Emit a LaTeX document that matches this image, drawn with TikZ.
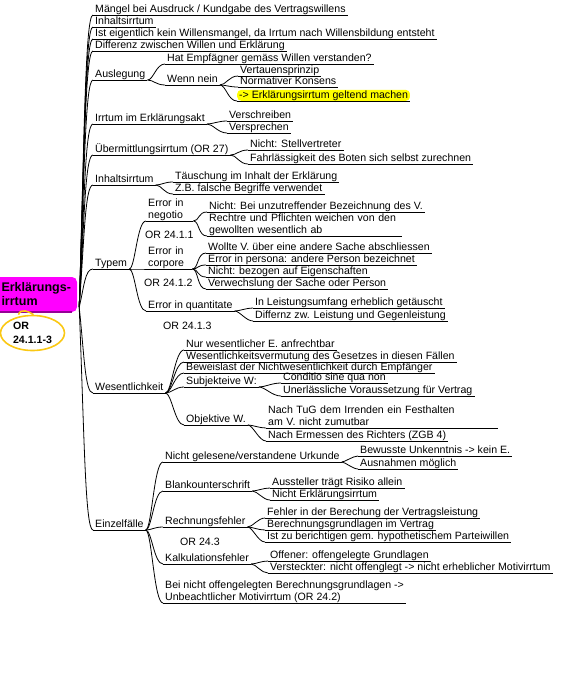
\documentclass[tikz,border=0pt]{standalone}
\usepackage{fontspec}
\setmainfont{Liberation Sans}
\usetikzlibrary{shapes.geometric}
\definecolor{rootpink}{RGB}{255,0,255}
\definecolor{rootshade}{RGB}{150,0,150}
\definecolor{marker}{RGB}{255,255,0}
\definecolor{ringgold}{RGB}{250,200,20}
\newcommand\dn{\rule[-2.3pt]{0pt}{2.3pt}}
\newcommand\ulext[1]{\hspace{#1pt}}

\begin{document}
\begin{tikzpicture}[x=1pt,y=1pt]
\tikzstyle{every node}+=[inner sep=0pt, font=\fontsize{10.6}{12}\selectfont]
\tikzstyle{uline}=[draw=black, line width=0.8pt]
\tikzstyle{twig}=[black, line width=0.8pt]
\tikzstyle{topic}=[anchor=south west, inner xsep=2pt, inner ysep=0.3pt, text height=8pt, text depth=2.3pt, append after command={(\tikzlastnode.south west) edge[uline] (\tikzlastnode.south east)}]
\tikzstyle{topicm}=[anchor=south west, inner xsep=2pt, inner ysep=0.3pt, align=left, append after command={(\tikzlastnode.south west) edge[uline] (\tikzlastnode.south east)}]
\tikzstyle{note}=[anchor=west]
\tikzstyle{marked}=[fill=marker, rounded corners=4pt]
\tikzstyle{rootbox}=[fill=rootpink, rounded corners=5pt, minimum width=81.5pt, minimum height=35pt, align=left, font=\bfseries\fontsize{12.5}{14}\selectfont]
\tikzstyle{ring}=[ellipse, draw=ringgold, line width=1.6pt, minimum width=64pt, minimum height=35pt, align=left, font=\bfseries\fontsize{10.6}{13.5}\selectfont]
\useasboundingbox (0,0) rectangle (565,-697);

% root and reference callout
\node[rootbox] (root) at (36.25,-294.5) {Erklärungs-\\irrtum};
\draw[rootshade, line width=1.5pt] ([xshift=5pt]root.south west) -- ([xshift=-5pt]root.south east);
\coordinate (hub) at ([shift={(2pt,5pt)}]root.south east);
\node[ring] (ref) at (32.5,-333) {OR\\24.1.1-3};
\draw[ringgold, line width=1.6pt] ([xshift=-14pt]ref.north) .. controls +(2,7) and +(-4,3) .. ([xshift=1pt]ref.north);

% main topics
\node[topic] (m1) at (93,-15) {Mängel bei Ausdruck / Kundgabe des Vertragswillens};
\node[topic] (m2) at (93,-27) {Inhaltsirrtum\ulext{3}};
\node[topic] (m3) at (93,-39) {Ist eigentlich kein Willensmangel, da Irrtum nach Willensbildung entsteht\ulext{8}};
\node[topic] (m4) at (93,-51) {Differenz zwischen Willen und Erklärung\ulext{5}};
\node[topic] (m5) at (93,-80) {Auslegung};
\node[topic] (m6) at (93,-124) {Irrtum im Erklärungsakt\ulext{4}};
\node[topic] (m7) at (93,-155) {Übermittlungsirrtum (OR 27)\ulext{3}};
\node[topic] (m8) at (93,-185) {Inhaltsirrtum\ulext{3}};
\node[topic] (m9) at (93,-269) {Typem\ulext{3}};
\node[topic] (m10) at (93,-393) {Wesentlichkeit\ulext{2}};
\node[topic] (m11) at (93,-530) {Einzelfälle\ulext{2}};

\draw[twig] (hub) .. controls +(5,161) and +(-8,0) .. (m1.south west);
\draw[twig] (hub) .. controls +(5,154) and +(-8,0) .. (m2.south west);
\draw[twig] (hub) .. controls +(5,147) and +(-8,0) .. (m3.south west);
\draw[twig] (hub) .. controls +(5,141) and +(-8,0) .. (m4.south west);
\draw[twig] (hub) .. controls +(5,125) and +(-8,0) .. (m5.south west);
\draw[twig] (hub) .. controls +(5,101) and +(-8,0) .. (m6.south west);
\draw[twig] (hub) .. controls +(5,84) and +(-8,0) .. (m7.south west);
\draw[twig] (hub) .. controls +(5,67) and +(-8,0) .. (m8.south west);
\draw[twig] (hub) .. controls +(5,21) and +(-8,0) .. (m9.south west);
\draw[twig] (hub) .. controls +(5,-47) and +(-8,0) .. (m10.south west);
\draw[twig] (hub) .. controls +(5,-123) and +(-8,0) .. (m11.south west);

% Auslegung
\node[topic] (a1) at (165,-64) {Hat Empfägner gemäss Willen verstanden?\ulext{4}};
\node[topic] (a2) at (165,-85) {Wenn nein\ulext{3}};
\node[topic] (a21) at (238,-76) {Vertauensprinzip\ulext{4}};
\node[topic] (a22) at (238,-87) {Normativer Konsens\ulext{3}};
\node[topic, marked] (a23) at (237,-101) {-> Erklärungsirrtum geltend machen\ulext{2}};
\draw[twig] (m5.south east) .. controls +(6,0) and +(-9,0) .. (a1.south west);
\draw[twig] (m5.south east) .. controls +(6,0) and +(-9,0) .. (a2.south west);
\draw[twig] (a2.south east) .. controls +(6,0) and +(-9,0) .. (a21.south west);
\draw[twig] (a2.south east) .. controls +(6,0) and +(-9,0) .. (a22.south west);
\draw[twig] (a2.south east) .. controls +(6,0) and +(-9,0) .. (a23.south west);

% Erklaerungsakt, Uebermittlung, Inhalt
\node[topic] (v1) at (227,-121) {Verschreiben\ulext{3}};
\node[topic] (v2) at (227,-133) {Versprechen\ulext{3}};
\node[topic] (u1) at (248,-150) {Nicht: Stellvertreter};
\node[topic] (u2) at (248,-164) {Fahrlässigkeit des Boten sich selbst zurechnen};
\node[topic] (i1) at (173,-182) {Täuschung im Inhalt der Erklärung\ulext{3}};
\node[topic] (i2) at (173,-194) {Z.B. falsche Begriffe verwendet\ulext{3}};
\draw[twig] (m6.south east) .. controls +(6,0) and +(-9,0) .. (v1.south west);
\draw[twig] (m6.south east) .. controls +(6,0) and +(-9,0) .. (v2.south west);
\draw[twig] (m7.south east) .. controls +(6,0) and +(-9,0) .. (u1.south west);
\draw[twig] (m7.south east) .. controls +(6,0) and +(-9,0) .. (u2.south west);
\draw[twig] (m8.south east) .. controls +(6,0) and +(-9,0) .. (i1.south west);
\draw[twig] (m8.south east) .. controls +(6,0) and +(-9,0) .. (i2.south west);

% Typen
\node[topicm, text width=43pt] (t1) at (146,-221) {Error in\\negotio\dn};
\node[note] (o1) at (145,-235) {OR 24.1.1};
\node[topicm, text width=42pt] (t2) at (146,-269) {Error in\\corpore\dn};
\node[note] (o2) at (144,-283) {OR 24.1.2};
\node[topic] (t3) at (146,-311) {Error in quantitate\ulext{9}};
\node[note] (o3) at (163,-326) {OR 24.1.3};
\draw[twig] (m9.south east) .. controls +(6,0) and +(-9,0) .. (t1.south west);
\draw[twig] (m9.south east) .. controls +(6,0) and +(-9,0) .. (t2.south west);
\draw[twig] (m9.south east) .. controls +(6,0) and +(-9,0) .. (t3.south west);
\node[topic] (t11) at (207,-212) {Nicht: Bei unzutreffender Bezeichnung des V.\ulext{3}};
\node[topicm, text width=191pt] (t12) at (207,-236) {Rechtre und Pflichten weichen von den\\gewollten wesentlich ab\dn};
\draw[twig] (t1.south east) .. controls +(6,0) and +(-9,0) .. (t11.south west);
\draw[twig] (t1.south east) .. controls +(6,0) and +(-9,0) .. (t12.south west);
\node[topic] (c1) at (206,-253) {Wollte V. über eine andere Sache abschliessen\ulext{3}};
\node[topic] (c2) at (206,-265) {Error in persona: andere Person bezeichnet\ulext{2}};
\node[topic] (c3) at (206,-277) {Nicht: bezogen auf Eigenschaften\ulext{3}};
\node[topic] (c4) at (206,-289) {Verwechslung der Sache oder Person\ulext{3}};
\draw[twig] (t2.south east) .. controls +(6,0) and +(-9,0) .. (c1.south west);
\draw[twig] (t2.south east) .. controls +(6,0) and +(-9,0) .. (c2.south west);
\draw[twig] (t2.south east) .. controls +(6,0) and +(-9,0) .. (c3.south west);
\draw[twig] (t2.south east) .. controls +(6,0) and +(-9,0) .. (c4.south west);
\node[topic] (q1) at (253,-308) {In Leistungsumfang erheblich getäuscht\ulext{3}};
\node[topic] (q2) at (253,-321) {Differnz zw. Leistung und Gegenleistung\ulext{2}};
\draw[twig] (t3.south east) .. controls +(5,0) and +(-7,0) .. (q1.south west);
\draw[twig] (t3.south east) .. controls +(5,0) and +(-7,0) .. (q2.south west);

% Wesentlichkeit
\node[topic] (w1) at (184,-350) {Nur wesentlicher E. anfrechtbar\ulext{3}};
\node[topic] (w2) at (184,-362) {Wesentlichkeitsvermutung des Gesetzes in diesen Fällen\ulext{2}};
\node[topic] (w3) at (184,-373) {Beweislast der Nichtwesentlichkeit durch Empfänger\ulext{3}};
\node[topic] (w4) at (184,-387) {Subjekteive W:\ulext{5}};
\node[topic] (w5) at (184,-425) {Objektive W.\ulext{3}};
\draw[twig] (m10.south east) .. controls +(6,0) and +(-9,0) .. (w1.south west);
\draw[twig] (m10.south east) .. controls +(6,0) and +(-9,0) .. (w2.south west);
\draw[twig] (m10.south east) .. controls +(6,0) and +(-9,0) .. (w3.south west);
\draw[twig] (m10.south east) .. controls +(6,0) and +(-9,0) .. (w4.south west);
\draw[twig] (m10.south east) .. controls +(6,0) and +(-9,0) .. (w5.south west);
\node[topic] (s1) at (281,-383) {Conditio sine qua non\ulext{3}};
\node[topic] (s2) at (281,-396) {Unerlässliche Voraussetzung für Vertrag\ulext{3}};
\draw[twig] (w4.south east) .. controls +(6,0) and +(-9,0) .. (s1.south west);
\draw[twig] (w4.south east) .. controls +(6,0) and +(-9,0) .. (s2.south west);
\node[topicm, text width=228pt] (b1) at (266,-428) {Nach TuG dem Irrenden ein Festhalten\\am V. nicht zumutbar\dn};
\node[topic] (b2) at (266,-441) {Nach Ermessen des Richters (ZGB 4)\ulext{2}};
\draw[twig] (w5.south east) .. controls +(5,0) and +(-7,0) .. (b1.south west);
\draw[twig] (w5.south east) .. controls +(5,0) and +(-7,0) .. (b2.south west);

% Einzelfaelle
\node[topic] (e1) at (163,-462) {Nicht gelesene/verstandene Urkunde\ulext{12}};
\node[topic] (e2) at (163,-491) {Blankounterschrift\ulext{5}};
\node[topic] (e3) at (163,-527) {Rechnungsfehler\ulext{3}};
\node[note] (o4) at (180,-542) {OR 24.3};
\node[topic] (e4) at (163,-564) {Kalkulationsfehler\ulext{2}};
\node[topicm] (e5) at (163,-603) {Bei nicht offengelegten Berechnungsgrundlagen ->\\Unbeachtlicher Motivirrtum (OR 24.2)\dn};
\draw[twig] (m11.south east) .. controls +(6,0) and +(-9,0) .. (e1.south west);
\draw[twig] (m11.south east) .. controls +(6,0) and +(-9,0) .. (e2.south west);
\draw[twig] (m11.south east) .. controls +(6,0) and +(-9,0) .. (e3.south west);
\draw[twig] (m11.south east) .. controls +(6,0) and +(-9,0) .. (e4.south west);
\draw[twig] (m11.south east) .. controls +(6,0) and +(-9,0) .. (e5.south west);
\node[topic] (n1) at (358,-456) {Bewusste Unkenntnis -> kein E.\ulext{3}};
\node[topic] (n2) at (358,-469) {Ausnahmen möglich\ulext{3}};
\draw[twig] (e1.south east) .. controls +(3,0) and +(-5,0) .. (n1.south west);
\draw[twig] (e1.south east) .. controls +(3,0) and +(-5,0) .. (n2.south west);
\node[topic] (k1) at (270,-488) {Aussteller trägt Risiko allein\ulext{3}};
\node[topic] (k2) at (270,-500) {Nicht Erklärungsirrtum\ulext{3}};
\draw[twig] (e2.south east) .. controls +(5,0) and +(-7,0) .. (k1.south west);
\draw[twig] (e2.south east) .. controls +(5,0) and +(-7,0) .. (k2.south west);
\node[topic] (r1) at (265,-518) {Fehler in der Berechung der Vertragsleistung\ulext{4}};
\node[topic] (r2) at (265,-530) {Berechnungsgrundlagen im Vertrag\ulext{4}};
\node[topic] (r3) at (265,-542) {Ist zu berichtigen gem. hypothetischem Parteiwillen};
\draw[twig] (e3.south east) .. controls +(5,0) and +(-7,0) .. (r1.south west);
\draw[twig] (e3.south east) .. controls +(5,0) and +(-7,0) .. (r2.south west);
\draw[twig] (e3.south east) .. controls +(5,0) and +(-7,0) .. (r3.south west);
\node[topic] (f1) at (268,-561) {Offener: offengelegte Grundlagen\ulext{3}};
\node[topic] (f2) at (268,-573) {Versteckter: nicht offenglegt -> nicht erheblicher Motivirrtum};
\draw[twig] (e4.south east) .. controls +(5,0) and +(-7,0) .. (f1.south west);
\draw[twig] (e4.south east) .. controls +(5,0) and +(-7,0) .. (f2.south west);
\end{tikzpicture}
\end{document}
